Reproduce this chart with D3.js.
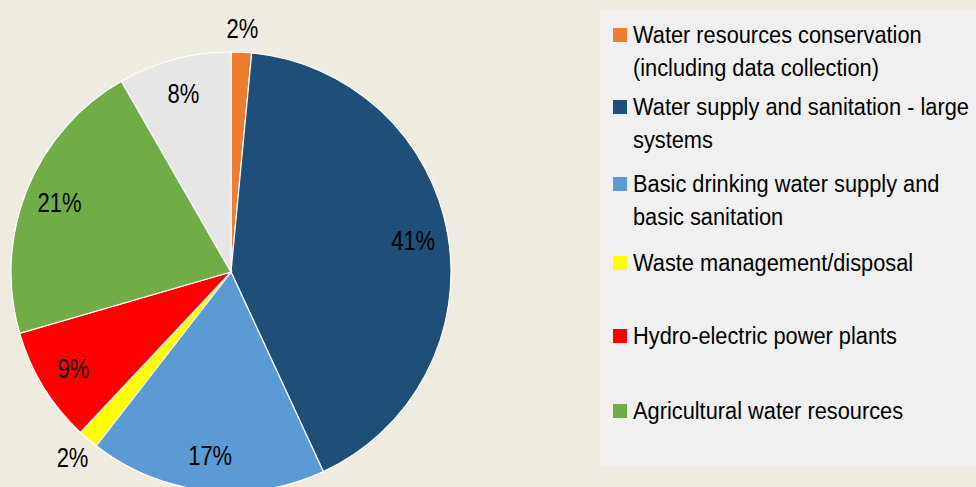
<!DOCTYPE html>
<html><head><meta charset="utf-8">
<script src="https://cdn.jsdelivr.net/npm/d3@7"></script>
<style>body{margin:0;background:#EEEBE1;} svg{display:block;font-family:"Liberation Sans",Arial,sans-serif;}</style>
</head><body>
<svg id="c" width="976" height="487"></svg>
<script>
const categories = [
  "Water resources conservation (including data collection)",
  "Water supply and sanitation - large systems",
  "Basic drinking water supply and basic sanitation",
  "Waste management/disposal",
  "Hydro-electric power plants",
  "Agricultural water resources",
  "Other"
];
const values = [1.5, 41.6, 17.4, 1.5, 8.5, 21.2, 8.3];
const labels = ["2%", "41%", "17%", "2%", "9%", "21%", "8%"];
const colors = ["#ED7D31", "#1F4E79", "#5B9BD5", "#FFFF00", "#FF0000", "#70AD47", "#E6E6E6"];
const legendLines = [
  ["Water resources conservation", "(including data collection)"],
  ["Water supply and sanitation - large", "systems"],
  ["Basic drinking water supply and", "basic sanitation"],
  ["Waste management/disposal"],
  ["Hydro-electric power plants"],
  ["Agricultural water resources"]
];

const svg = d3.select("#c");
svg.append("rect").attr("width",976).attr("height",487).attr("fill","#EEEBE1");

const cx = 231, cy = 272, r = 220;
const g = svg.append("g").attr("transform",`translate(${cx},${cy})`);
const pie = d3.pie().sort(null).value(d=>d);
const arcs = pie(values);
const arc = d3.arc().innerRadius(0).outerRadius(r);
g.selectAll("path").data(arcs).join("path")
  .attr("d",arc).attr("fill",(d,i)=>colors[i])
  .attr("stroke","#fff").attr("stroke-width",1.2);

const inner = d3.arc().innerRadius(r*0.84).outerRadius(r*0.84);
const outer = d3.arc().innerRadius(244).outerRadius(244);
g.selectAll("text.lab").data(arcs).join("text").attr("class","lab")
  .attr("transform",(d,i)=>{
    const small = values[i] < 3;
    const [x,y] = (small?outer:inner).centroid(d);
    return `translate(${x},${y}) scale(1,1.22)`;
  })
  .attr("text-anchor","middle").attr("dominant-baseline","central")
  .attr("font-size",22).attr("fill","#000").text((d,i)=>labels[i]);

// legend
svg.append("rect").attr("x",600).attr("y",11).attr("width",376).attr("height",455).attr("fill","#F0F0F0");
const itemY = [35, 107, 184, 263, 336, 411];
const lg = svg.append("g");
legendLines.forEach((lines,i)=>{
  lg.append("rect").attr("x",613).attr("y",itemY[i]-7).attr("width",14).attr("height",14).attr("fill",colors[i]);
  lines.forEach((t,j)=>{
    lg.append("text").attr("transform",`translate(633,${itemY[i]+j*33}) scale(1,1.1)`)
      .attr("dominant-baseline","central").attr("font-size",21.8).attr("fill","#000").text(t);
  });
});
</script>
</body></html>
